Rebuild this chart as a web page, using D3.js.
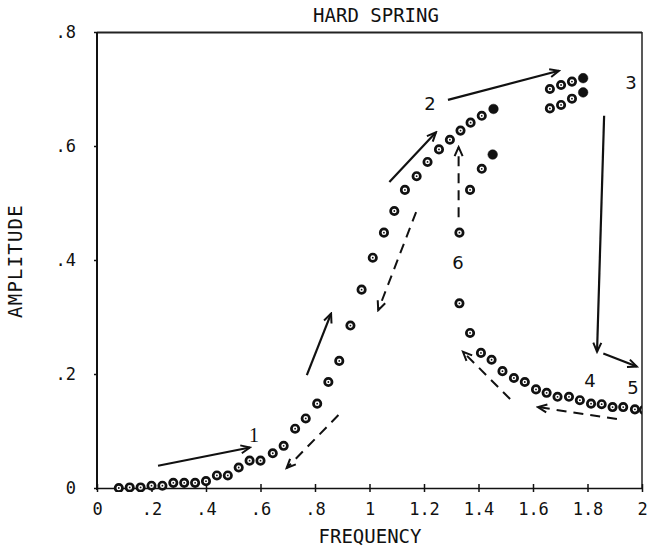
<!DOCTYPE html>
<html>
<head>
<meta charset="utf-8">
<script src="https://cdn.jsdelivr.net/npm/d3@7/dist/d3.min.js"></script>
<style>
  html, body { margin: 0; padding: 0; background: #fff; }
  svg { display: block; }
  text { font-family: "DejaVu Sans Mono", monospace; fill: #111; }
</style>
</head>
<body>
<svg id="chart" width="648" height="548"></svg>
<script>
// Frequency sweep, rising branch (open markers, last one solid)
const riseFreq = [0.08, 0.12, 0.16, 0.20, 0.24, 0.28, 0.32, 0.36, 0.40, 0.44, 0.48, 0.52,
  0.56, 0.60, 0.645, 0.685, 0.727, 0.766, 0.808, 0.849, 0.889, 0.930, 0.971, 1.012,
  1.053, 1.091, 1.130, 1.173, 1.213, 1.255, 1.295, 1.334, 1.371, 1.412, 1.455];
const riseAmp = [0.000, 0.001, 0.001, 0.004, 0.004, 0.009, 0.009, 0.009, 0.012, 0.022, 0.022, 0.036,
  0.048, 0.048, 0.061, 0.074, 0.104, 0.122, 0.148, 0.186, 0.223, 0.285, 0.348, 0.404,
  0.448, 0.486, 0.523, 0.547, 0.572, 0.594, 0.611, 0.627, 0.641, 0.653, 0.665];
const riseSolid = [34];

// Upper jump region near 1.7
const highFreq = [1.662, 1.703, 1.743, 1.784];
const highAmpTop = [0.700, 0.707, 0.713, 0.719];
const highAmpLow = [0.666, 0.672, 0.683, 0.694];
const highSolid = [3];

// Falling branch back through the drop and along the lower tail
const fallFreq = [1.452, 1.412, 1.369, 1.330, 1.330, 1.369, 1.409, 1.448, 1.488, 1.530,
  1.570, 1.611, 1.650, 1.690, 1.732, 1.772, 1.813, 1.852, 1.892, 1.931, 1.974, 2.007];
const fallAmp = [0.585, 0.560, 0.523, 0.448, 0.324, 0.272, 0.237, 0.225, 0.205, 0.193,
  0.186, 0.173, 0.167, 0.160, 0.160, 0.154, 0.148, 0.147, 0.142, 0.142, 0.138, 0.137];
const fallSolid = [0];

// Axis ticks
const xTicks = [0, 0.2, 0.4, 0.6, 0.8, 1, 1.2, 1.4, 1.6, 1.8, 2];
const xTickLabels = ["0", ".2", ".4", ".6", ".8", "1", "1.2", "1.4", "1.6", "1.8", "2"];
const yTicks = [0, 0.2, 0.4, 0.6, 0.8];
const yTickLabels = ["0", ".2", ".4", ".6", ".8"];

// Direction arrows: [f0, a0, f1, a1]
const solidArrows = [
  [0.224, 0.039, 0.561, 0.071],
  [0.770, 0.198, 0.859, 0.306],
  [1.073, 0.537, 1.244, 0.624],
  [1.288, 0.681, 1.695, 0.732],
  [1.861, 0.653, 1.835, 0.239],
  [1.858, 0.236, 1.981, 0.213]
];
const dashedArrows = [
  [0.886, 0.128, 0.696, 0.035],
  [1.171, 0.484, 1.032, 0.312],
  [1.327, 0.475, 1.327, 0.598],
  [1.516, 0.156, 1.343, 0.239],
  [1.908, 0.121, 1.618, 0.142]
];

// Branch labels
const labelText = ["1", "2", "3", "4", "5", "6"];
const labelFreq = [0.576, 1.222, 1.960, 1.809, 1.967, 1.325];
const labelAmp = [0.093, 0.674, 0.711, 0.189, 0.177, 0.395];

const svg = d3.select("#chart");
const x = d3.scaleLinear().domain([0, 2]).range([97, 642]);
const y = d3.scaleLinear().domain([0, 0.8]).range([488, 32]);

// Title and axis titles
svg.append("text").attr("x", 376).attr("y", 22).attr("text-anchor", "middle")
  .style("font-size", "19px").text("HARD SPRING");
svg.append("text").attr("x", 370).attr("y", 543).attr("text-anchor", "middle")
  .style("font-size", "19px").text("FREQUENCY");
svg.append("text").attr("transform", "translate(22,261) rotate(-90)").attr("text-anchor", "middle")
  .style("font-size", "19px").style("letter-spacing", "1.2px").text("AMPLITUDE");

// Frame
svg.append("line").attr("x1", 97).attr("x2", 642).attr("y1", 32.5).attr("y2", 32.5)
  .attr("stroke", "#222").attr("stroke-width", 2);
svg.append("line").attr("x1", 642).attr("x2", 642).attr("y1", 32).attr("y2", 488)
  .attr("stroke", "#222").attr("stroke-width", 1.5);

// Axes
const xAxis = d3.axisBottom(x).tickValues(xTicks)
  .tickFormat((d, i) => xTickLabels[i]).tickSizeInner(4).tickSizeOuter(0).tickPadding(11);
const gx = svg.append("g").attr("transform", "translate(0,488)").call(xAxis);
gx.select(".domain").attr("stroke", "#111").attr("stroke-width", 1.6);
gx.selectAll(".tick line").attr("y1", -4).attr("stroke", "#111").attr("stroke-width", 1.5);
gx.selectAll(".tick text").style("font-size", "17px").style("font-family", "DejaVu Sans Mono")
  .attr("fill", "#111");

const yAxis = d3.axisLeft(y).tickValues(yTicks)
  .tickFormat((d, i) => yTickLabels[i]).tickSizeInner(3).tickSizeOuter(0).tickPadding(18);
const gy = svg.append("g").attr("transform", "translate(97,0)").call(yAxis);
gy.select(".domain").attr("stroke", "#111").attr("stroke-width", 2).attr("d", "M0,32V490");
gy.selectAll(".tick line").attr("stroke", "#111").attr("stroke-width", 1.5);
gy.selectAll(".tick text").style("font-size", "17px").style("font-family", "DejaVu Sans Mono")
  .attr("fill", "#111");

// Arrowhead markers (open V heads)
const defs = svg.append("defs");
defs.append("marker").attr("id", "vhead").attr("viewBox", "-10 -6 12 12")
  .attr("refX", 0).attr("refY", 0).attr("markerWidth", 12).attr("markerHeight", 12)
  .attr("markerUnits", "userSpaceOnUse").attr("orient", "auto")
  .append("path").attr("d", "M-9,-4L0,0L-9,4").attr("fill", "none")
  .attr("stroke", "#111").attr("stroke-width", 2);
defs.append("clipPath").attr("id", "plotClip").append("rect")
  .attr("x", 97).attr("y", 30).attr("width", 545).attr("height", 462);

const arrows = svg.append("g");
arrows.selectAll("line.solid").data(solidArrows).join("line").attr("class", "solid")
  .attr("x1", d => x(d[0])).attr("y1", d => y(d[1]))
  .attr("x2", d => x(d[2])).attr("y2", d => y(d[3]))
  .attr("stroke", "#111").attr("stroke-width", 2.2).attr("marker-end", "url(#vhead)");
arrows.selectAll("line.dashed").data(dashedArrows).join("line").attr("class", "dashed")
  .attr("x1", d => x(d[0])).attr("y1", d => y(d[1]))
  .attr("x2", d => x(d[2])).attr("y2", d => y(d[3]))
  .attr("stroke", "#111").attr("stroke-width", 2).attr("stroke-dasharray", "10,7")
  .attr("marker-end", "url(#vhead)");

// Branch labels
svg.append("g").selectAll("text").data(labelText).join("text")
  .attr("x", (d, i) => x(labelFreq[i])).attr("y", (d, i) => y(labelAmp[i]))
  .attr("text-anchor", "middle").attr("dominant-baseline", "central")
  .style("font-family", (d, i) => i === 0 ? "Liberation Serif, serif" : "DejaVu Sans, sans-serif")
  .style("font-size", (d, i) => i === 0 ? "20px" : "18px")
  .text(d => d);

// Markers: ringed circle with a centre dot, or solid disc
const pts = [];
riseFreq.forEach((f, i) => pts.push({ f, a: riseAmp[i], solid: riseSolid.includes(i) }));
highFreq.forEach((f, i) => pts.push({ f, a: highAmpTop[i], solid: highSolid.includes(i) }));
highFreq.forEach((f, i) => pts.push({ f, a: highAmpLow[i], solid: highSolid.includes(i) }));
fallFreq.forEach((f, i) => pts.push({ f, a: fallAmp[i], solid: fallSolid.includes(i) }));

const marks = svg.append("g").attr("clip-path", "url(#plotClip)");
const mg = marks.selectAll("g").data(pts).join("g")
  .attr("transform", d => `translate(${x(d.f)},${y(d.a)})`);
mg.append("circle").attr("r", d => d.solid ? 4.8 : 3.7)
  .attr("fill", d => d.solid ? "#111" : "#fff")
  .attr("stroke", "#111").attr("stroke-width", d => d.solid ? 0.5 : 2.7);
mg.filter(d => !d.solid).append("circle").attr("r", 0.9).attr("fill", "#111");
</script>
</body>
</html>
